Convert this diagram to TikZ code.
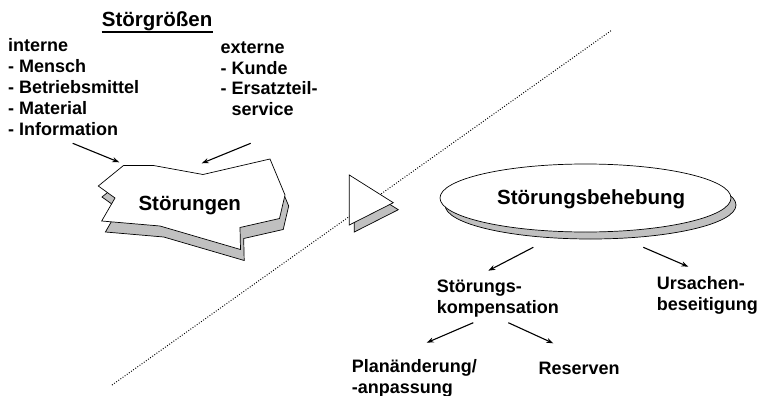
\documentclass[tikz,border=0pt]{standalone}
\usepackage{fontspec}
\setmainfont{Liberation Sans}
\usetikzlibrary{arrows.meta,shapes.geometric,calc}
\definecolor{shadowgray}{RGB}{192,192,192}
\begin{document}
\begin{tikzpicture}[x=1pt,y=-1pt,
  lbl/.style={inner sep=0pt, anchor=base west, font=\fontsize{18}{20.8}\selectfont\bfseries},
  biglbl/.style={inner sep=0pt, anchor=base west, font=\fontsize{20.5}{24}\selectfont\bfseries},
  arr/.style={line width=1.1pt, -{Stealth[length=7pt,width=5pt]}},
  shade/.style={fill=shadowgray, draw=black, line width=0.7pt, line join=miter},
  plate/.style={fill=white, draw=black, line width=0.7pt, line join=miter},
  sep/.style={line width=1pt, dash pattern=on 0.9pt off 1.7pt}]
\useasboundingbox (0,0) rectangle (760,396);

% dotted dividing line
\coordinate (sepA) at (112,385);
\coordinate (sepB) at (612,30);
\draw[sep] (sepA) -- (sepB);

% disturbance plate with its shadow
\draw[shade, shift={(3.7,11)}] (123.5,165.5) -- (153.5,165.5) -- (203,174.5) -- (270,159)
  -- (285,195) -- (279.5,218.5) -- (240,227.5) -- (240.5,249.5) -- (160,226)
  -- (101.7,221) -- (115,198) -- (98.3,186) -- cycle;
\draw[plate] (123.5,165.5) -- (153.5,165.5) -- (203,174.5) -- (270,159)
  -- (285,195) -- (279.5,218.5) -- (240,227.5) -- (240.5,249.5) -- (160,226)
  -- (101.7,221) -- (115,198) -- (98.3,186) -- cycle;
\node[biglbl] (stoer) at (138.3,210) {Störungen};

% transition triangle
\draw[shade, shift={(5,7)}] (349.3,175) -- (393.3,202.7) -- (349.3,225) -- cycle;
\draw[plate] (349.3,175) -- (393.3,202.7) -- (349.3,225) -- cycle;

% remedy ellipse
\node[ellipse, shade, minimum width=291pt, minimum height=68pt, inner sep=0pt] (behS) at (590.5,205) {};
\node[ellipse, plate, minimum width=291pt, minimum height=68pt, inner sep=0pt] (beh) at (585.5,198) {};
\node[biglbl] (behT) at (497,204.3) {Störungsbehebung};

% disturbance variables
\node[biglbl] (groessen) at (101.7,27) {Störgrößen};
\draw[line width=1.6pt] ($(groessen.base west)+(0,4.8)$) -- ($(groessen.base east)+(0,4.8)$);
\node[lbl] (intern) at (8,52) {\begin{tabular}[t]{@{}l@{}}interne\\- Mensch\\- Betriebsmittel\\- Material\\- Information\end{tabular}};
\node[lbl] (extern) at (220.5,53.3) {\begin{tabular}[t]{@{}l@{}}externe\\- Kunde\\- Ersatzteil-\\\phantom{- }service\end{tabular}};

% remedy branches
\node[lbl] (komp) at (436.7,292.5) {\begin{tabular}[t]{@{}l@{}}Störungs-\\kompensation\end{tabular}};
\node[lbl] (urs) at (656.7,289.5) {\begin{tabular}[t]{@{}l@{}}Ursachen-\\beseitigung\end{tabular}};
\node[lbl] (plan) at (351.7,372.5) {\begin{tabular}[t]{@{}l@{}}Planänderung/\\-anpassung\end{tabular}};
\node[lbl] (res) at (538.3,374) {Reserven};

% arrow end points
\coordinate (inA) at (72.7,143.3);  \coordinate (inB) at (119.3,162.3);
\coordinate (exA) at (250.7,143.3); \coordinate (exB) at (201.7,163.3);
\coordinate (bA) at (533.3,247.3);  \coordinate (bB) at (488.3,270.7);
\coordinate (cA) at (643.3,247.3);  \coordinate (cB) at (688.3,266.7);
\coordinate (kA) at (473.3,322.7);  \coordinate (kB) at (426.7,342.7);
\coordinate (rA) at (508.3,322.7);  \coordinate (rB) at (553.3,343.3);

\draw[arr] (inA) -- (inB);
\draw[arr] (exA) -- (exB);
\draw[arr] (bA) -- (bB);
\draw[arr] (cA) -- (cB);
\draw[arr] (kA) -- (kB);
\draw[arr] (rA) -- (rB);
\end{tikzpicture}
\end{document}
